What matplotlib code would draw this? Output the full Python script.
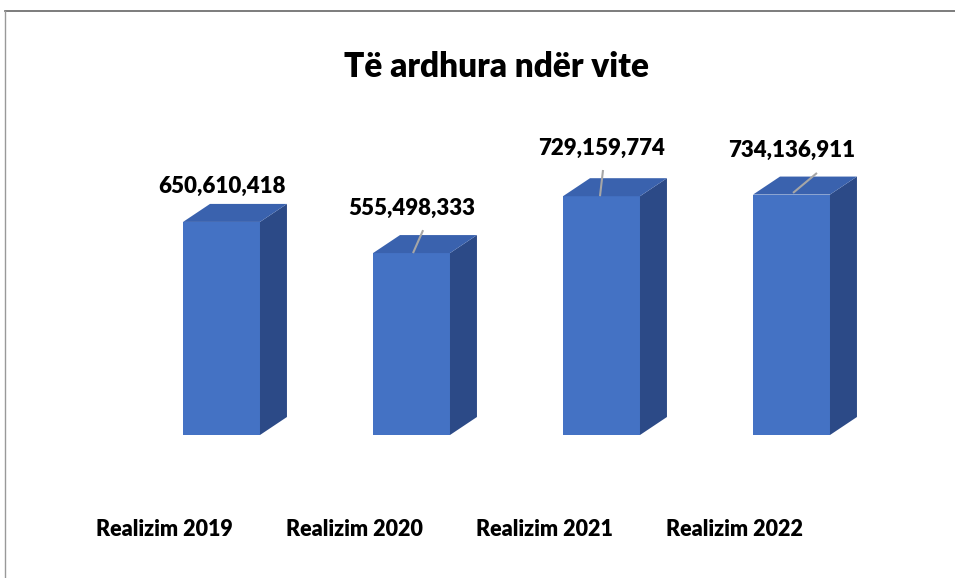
import matplotlib
matplotlib.use("Agg")
import matplotlib.pyplot as plt
from matplotlib.patches import Polygon
from matplotlib.lines import Line2D

# Data
categories = ["Realizim 2019", "Realizim 2020", "Realizim 2021", "Realizim 2022"]
values = [650610418, 555498333, 729159774, 734136911]
value_labels = ["650,610,418", "555,498,333", "729,159,774", "734,136,911"]
title = "Të ardhura ndër vite"

# Style
FRONT = "#4472C4"
TOP = "#3A62AE"
SIDE = "#2C4A87"
BAR_W = 0.405
DEPTH_X = 0.142
DEPTH_Y = 55e6
FONT = ["Lato", "DejaVu Sans"]

fig = plt.figure(figsize=(9.55, 5.78), dpi=100)
ax = fig.add_axes([0, 0.2474, 1, 0.5666])
ax.set_xlim(-1.1658, 3.8605)
ax.set_ylim(0, 1000e6)
ax.axis("off")

# label height above the bar front top
label_gap = [107e6, 137e6, 147e6, 134e6]
# leader lines: (dx top, dy top, dx bottom, dy bottom) relative to (i, value)
leader = [None, (0.061, 70e6, 0.008, 0), (0.008, 80e6, -0.008, 0), (0.134, 66e6, 0.008, 5e6)]

for i, v in enumerate(values):
    x0 = i - BAR_W / 2
    x1 = i + BAR_W / 2
    # front
    ax.add_patch(Polygon([(x0, 0), (x1, 0), (x1, v), (x0, v)], closed=True,
                         facecolor=FRONT, edgecolor="none"))
    # side
    ax.add_patch(Polygon([(x1, 0), (x1 + DEPTH_X, DEPTH_Y), (x1 + DEPTH_X, v + DEPTH_Y), (x1, v)],
                         closed=True, facecolor=SIDE, edgecolor="none"))
    # top
    ax.add_patch(Polygon([(x0, v), (x1, v), (x1 + DEPTH_X, v + DEPTH_Y), (x0 + DEPTH_X, v + DEPTH_Y)],
                         closed=True, facecolor=TOP, edgecolor="none"))

    if leader[i] is not None:
        dxt, dyt, dxb, dyb = leader[i]
        ax.plot([i + dxt, i + dxb], [v + dyt, v + dyb], color="#A6A6A6", lw=1.5,
                solid_capstyle="butt")

    ax.text(i, v + label_gap[i], value_labels[i], ha="center", va="center", fontsize=16,
            fontweight="heavy", family=FONT, color="black")

    ax.text(i - 0.3, -290e6, categories[i], ha="center", va="center", fontsize=15.5,
            fontweight="heavy", family=FONT, color="black", clip_on=False)

fig.text(0.520, 1 - 67 / 578, title, ha="center", va="center", fontsize=24,
         fontweight="heavy", family=FONT, color="black")

# outer frame (top and left edges)
fig.add_artist(Line2D([5 / 955, 1], [1 - 11 / 578, 1 - 11 / 578], color="#666666", lw=1.2))
fig.add_artist(Line2D([5 / 955, 5 / 955], [0, 1 - 11 / 578], color="#999999", lw=1.0))

fig.savefig("out.png", dpi=100, facecolor="white")
